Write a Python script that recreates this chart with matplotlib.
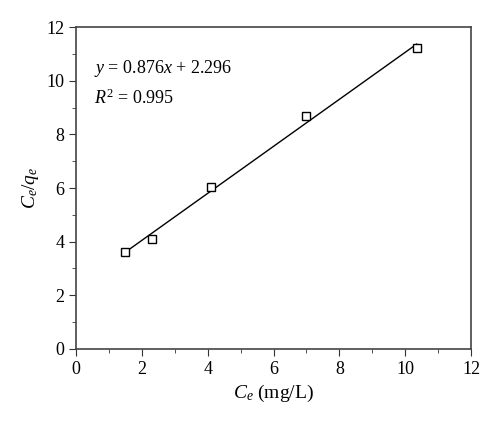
import matplotlib
matplotlib.use('Agg')
import matplotlib.pyplot as plt
from matplotlib.ticker import MultipleLocator

# dados
ce = [1.5, 2.3, 4.1, 7.0, 10.35]
ce_qe = [3.6, 4.1, 6.02, 8.7, 11.2]

# reta ajustada (do texto da figura)
inclinacao = 0.876
intercepto = 2.296
x_reta = [1.5, 10.35]

plt.rcParams['font.family'] = 'Liberation Serif'
plt.rcParams['mathtext.fontset'] = 'custom'
plt.rcParams['mathtext.rm'] = 'Liberation Serif'
plt.rcParams['mathtext.it'] = 'Liberation Serif:italic'

fig = plt.figure(figsize=(5, 4.22), dpi=100)
ax = fig.add_axes([0.152, 0.173, 0.79, 0.763])

y_reta = [inclinacao * x + intercepto for x in x_reta]
ax.plot(x_reta, y_reta, color='black', lw=1)
ax.plot(ce, ce_qe, ls='none', marker='s', mfc='white', mec='black', ms=5.5, mew=1)

ax.set_xlim(0, 12)
ax.set_ylim(0, 12)
ax.xaxis.set_major_locator(MultipleLocator(2))
ax.xaxis.set_minor_locator(MultipleLocator(1))
ax.yaxis.set_major_locator(MultipleLocator(2))
ax.yaxis.set_minor_locator(MultipleLocator(1))
ax.tick_params(which='both', direction='out', labelsize=13, color='#333333')
ax.tick_params(which='major', length=5)
ax.tick_params(which='minor', length=3)
for s in ax.spines.values():
    s.set_color('#444444')
    s.set_linewidth(1.2)

ax.set_xlabel(r'$C_e$ (mg/L)', fontsize=14)
ax.set_ylabel(r'$C_e/q_e$', fontsize=14)

ax.text(0.55, 10.45, r'$y$ = 0.876$x$ + 2.296', fontsize=13, va='center')
ax.text(0.55, 9.35, r'$R^2$ = 0.995', fontsize=13, va='center')

fig.savefig('out.png', dpi=100)
